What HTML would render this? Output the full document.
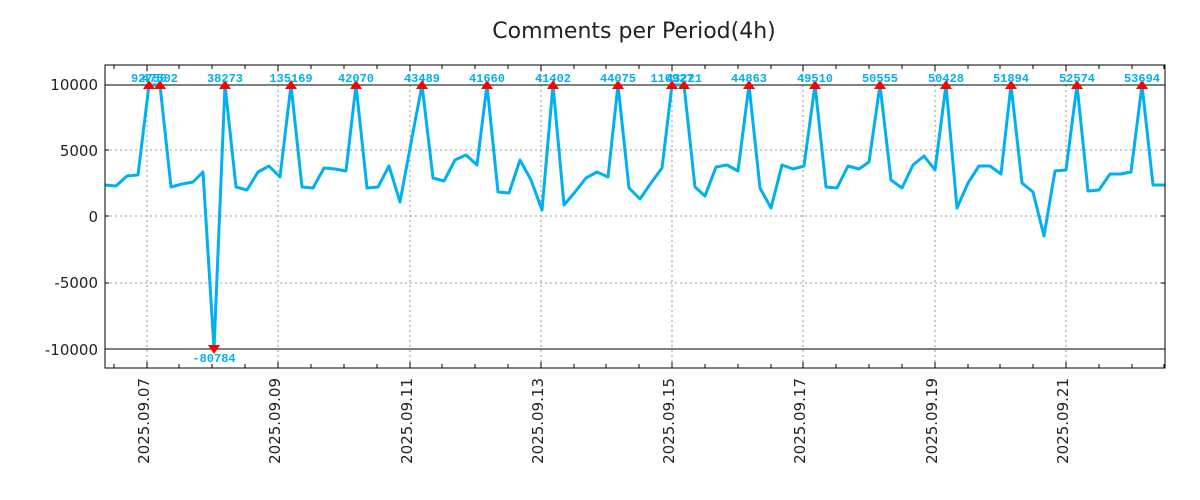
<!DOCTYPE html>
<html><head><meta charset="utf-8"><style>body{margin:0;background:#fff}svg{display:block}</style></head><body>
<svg width="1200" height="500" xmlns="http://www.w3.org/2000/svg" font-family="DejaVu Sans, Liberation Sans, sans-serif">
<rect width="1200" height="500" fill="#fff"/>
<text x="634" y="38" font-size="22" text-anchor="middle" fill="#222">Comments per Period(4h)</text>
<g stroke="#999" stroke-width="1" stroke-dasharray="2,3">
<line x1="105" x2="1165" y1="150" y2="150"/><line x1="105" x2="1165" y1="216" y2="216"/><line x1="105" x2="1165" y1="283" y2="283"/>
<line x1="147" x2="147" y1="65" y2="368"/><line x1="278" x2="278" y1="65" y2="368"/><line x1="410" x2="410" y1="65" y2="368"/><line x1="541" x2="541" y1="65" y2="368"/><line x1="672" x2="672" y1="65" y2="368"/><line x1="803" x2="803" y1="65" y2="368"/><line x1="935" x2="935" y1="65" y2="368"/><line x1="1066" x2="1066" y1="65" y2="368"/>
</g>
<line x1="105" x2="1165" y1="85" y2="85" stroke="#000" stroke-width="1"/>
<line x1="105" x2="1165" y1="349" y2="349" stroke="#000" stroke-width="1"/>
<polyline fill="none" stroke="#00b0f0" stroke-width="3" stroke-linejoin="round" points="105,185 116,186 127,176 138,175 149,85 160,85 171,187 182,184 193,182 203,172 214,349 225,85 236,187 247,190 258,172 269,166 280,177 291,85 302,187 313,188 324,168 335,169 346,171 356,85 367,188 378,187 389,166 400,202 411,143 422,85 433,178 444,181 455,160 466,155 477,165 487,85 498,192 509,193 520,160 531,180 542,210 553,85 564,205 575,192 586,178 597,172 608,177 618,85 629,188 640,199 651,183 662,168 672,85 684,85 695,187 705,196 716,167 727,165 738,171 749,85 760,188 771,208 782,165 793,169 804,166 815,85 826,187 837,188 848,166 859,169 869,162 880,85 891,180 902,188 913,165 924,156 935,170 946,85 957,208 968,183 979,166 990,166 1001,174 1011,85 1022,183 1033,192 1044,236 1055,171 1066,170 1077,85 1088,191 1099,190 1110,174 1121,174 1131,172 1142,85 1153,185 1165,185"/>
<g fill="#ff0000">
<path d="M143,89 l6,-9 l6,9z M154,89 l6,-9 l6,9z M219,89 l6,-9 l6,9z M285,89 l6,-9 l6,9z M350,89 l6,-9 l6,9z M416,89 l6,-9 l6,9z M481,89 l6,-9 l6,9z M547,89 l6,-9 l6,9z M612,89 l6,-9 l6,9z M666,89 l6,-9 l6,9z M678,89 l6,-9 l6,9z M743,89 l6,-9 l6,9z M809,89 l6,-9 l6,9z M874,89 l6,-9 l6,9z M940,89 l6,-9 l6,9z M1005,89 l6,-9 l6,9z M1071,89 l6,-9 l6,9z M1136,89 l6,-9 l6,9z M208,345 l6,9 l6,-9z"/>
</g>
<g font-family="Liberation Mono, DejaVu Sans Mono, monospace" font-size="12" font-weight="bold" fill="#00b0f0" text-anchor="middle">
<text x="149" y="82">92750</text><text x="160" y="82">47502</text><text x="225" y="82">38273</text><text x="291" y="82">135169</text><text x="356" y="82">42070</text><text x="422" y="82">43489</text><text x="487" y="82">41660</text><text x="553" y="82">41402</text><text x="618" y="82">44075</text><text x="672" y="82">110927</text><text x="684" y="82">43221</text><text x="749" y="82">44863</text><text x="815" y="82">49510</text><text x="880" y="82">50555</text><text x="946" y="82">50428</text><text x="1011" y="82">51894</text><text x="1077" y="82">52574</text><text x="1142" y="82">53694</text>
<text x="214" y="362">-80784</text>
</g>
<rect x="105" y="65" width="1060" height="303" fill="none" stroke="#000" stroke-width="1"/>
<g stroke="#000" stroke-width="1">
<path d="M105,85h4M105,150h4M105,216h4M105,283h4M105,349h4M1165,85h-4M1165,150h-4M1165,216h-4M1165,283h-4M1165,349h-4"/>
<path d="M114,368v-4M147,368v-6M179,368v-4M212,368v-4M245,368v-4M278,368v-6M311,368v-4M344,368v-4M377,368v-4M410,368v-6M442,368v-4M475,368v-4M508,368v-4M541,368v-6M574,368v-4M606,368v-4M639,368v-4M672,368v-6M705,368v-4M738,368v-4M771,368v-4M803,368v-6M836,368v-4M869,368v-4M902,368v-4M935,368v-6M968,368v-4M1000,368v-4M1033,368v-4M1066,368v-6M1099,368v-4M1132,368v-4M1164,368v-4"/>
<path d="M114,65v4M147,65v6M179,65v4M212,65v4M245,65v4M278,65v6M311,65v4M344,65v4M377,65v4M410,65v6M442,65v4M475,65v4M508,65v4M541,65v6M574,65v4M606,65v4M639,65v4M672,65v6M705,65v4M738,65v4M771,65v4M803,65v6M836,65v4M869,65v4M902,65v4M935,65v6M968,65v4M1000,65v4M1033,65v4M1066,65v6M1099,65v4M1132,65v4M1164,65v4"/>
</g>
<g font-size="15" fill="#222" text-anchor="end">
<text x="98" y="90">10000</text><text x="98" y="156">5000</text><text x="98" y="222">0</text><text x="98" y="288">-5000</text><text x="98" y="355">-10000</text>
</g>
<g font-size="15" fill="#222" text-anchor="end">
<text transform="translate(149,378) rotate(-90)">2025.09.07</text>
<text transform="translate(280,378) rotate(-90)">2025.09.09</text>
<text transform="translate(412,378) rotate(-90)">2025.09.11</text>
<text transform="translate(543,378) rotate(-90)">2025.09.13</text>
<text transform="translate(674,378) rotate(-90)">2025.09.15</text>
<text transform="translate(805,378) rotate(-90)">2025.09.17</text>
<text transform="translate(937,378) rotate(-90)">2025.09.19</text>
<text transform="translate(1068,378) rotate(-90)">2025.09.21</text>
</g>
</svg>
</body></html>
